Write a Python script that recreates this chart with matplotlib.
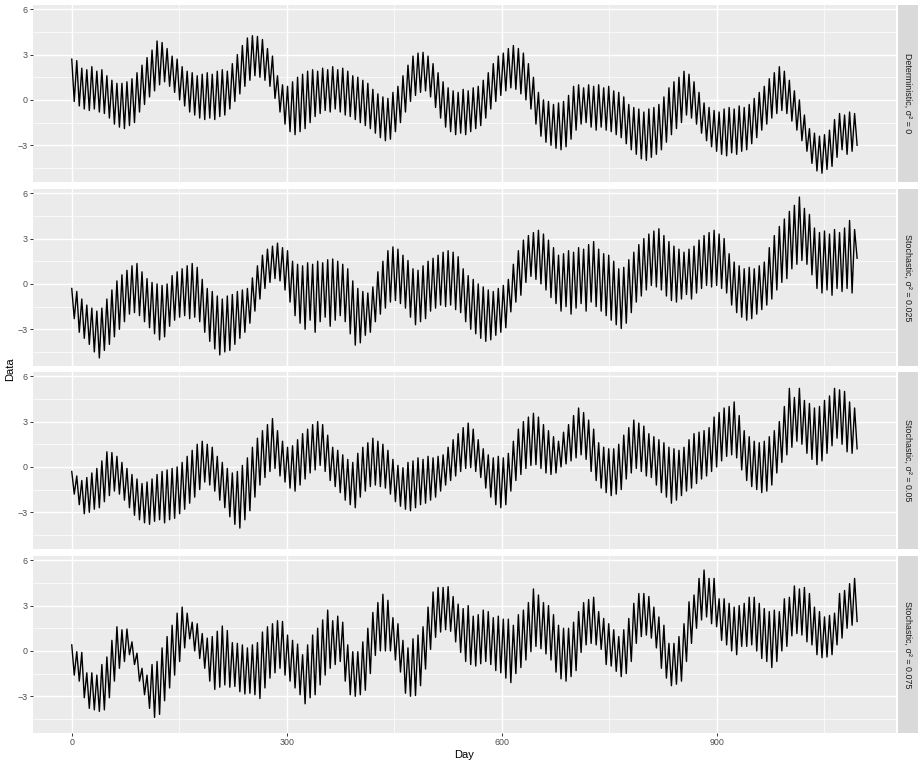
import numpy as np
import matplotlib
matplotlib.use("Agg")
import matplotlib.pyplot as plt

# weekly peak (hi) and trough (lo) of each facet
# 157 weeks -> days 0..1095
det_hi = [2.7, 2.6, 2.1, 2.0, 2.2, 1.9, 2.0, 1.6, 1.3, 1.1,
          1.1, 1.2, 1.4, 1.8, 2.3, 2.8, 3.3, 3.9, 3.8, 3.4,
          2.9, 2.7, 2.2, 1.9, 1.8, 1.6, 1.7, 1.8, 1.7, 1.9,
          2.0, 1.9, 2.4, 3.0, 3.6, 4.1, 4.25, 4.2, 4.0, 3.4,
          2.9, 1.6, 1.0, 0.9, 1.2, 1.5, 1.7, 1.9, 2.0, 1.9,
          2.1, 2.0, 2.2, 2.0, 2.1, 1.9, 1.6, 1.5, 1.3, 1.1,
          0.7, 0.4, 0.2, 0.1, 0.5, 0.9, 1.6, 2.3, 2.9, 3.1,
          3.15, 2.9, 2.4, 1.8, 1.2, 0.8, 0.6, 0.5, 0.7, 0.6,
          0.8, 0.9, 1.3, 1.8, 2.4, 2.9, 3.1, 3.4, 3.6, 3.4,
          3.1, 2.4, 1.5, 0.5, 0.0, -0.1, -0.3, -0.2, -0.1, 0.3,
          0.9, 1.0, 0.8, 1.0, 0.9, 1.0, 0.8, 0.9, 0.6, 0.5,
          0.2, -0.3, -0.5, -0.6, -0.8, -0.6, -0.5, -0.3, 0.2, 0.8,
          1.2, 1.5, 1.9, 1.7, 1.2, 0.5, -0.2, -0.5, -0.7, -0.8,
          -0.6, -0.5, -0.6, -0.4, -0.5, -0.3, 0.1, 0.5, 0.9, 1.4,
          1.8, 2.2, 1.9, 1.3, 0.6, 0.0, -1.0, -1.9, -2.2, -2.4,
          -2.3, -2.0, -1.3, -0.9, -1.0, -0.8, -0.9]
det_lo = [-0.1, -0.4, -0.6, -0.7, -0.6, -0.8, -0.9, -1.2, -1.6, -1.8,
          -1.9, -1.7, -1.5, -0.8, -0.3, 0.2, 0.6, 1.0, 1.2, 0.9,
          0.5, 0.0, -0.4, -0.8, -1.0, -1.2, -1.3, -1.2, -1.3, -1.1,
          -1.0, -0.6, -0.1, 0.4, 0.9, 1.3, 1.6, 1.5, 1.3, 0.9,
          0.1, -0.8, -1.6, -2.1, -2.3, -2.1, -1.9, -1.5, -1.1, -0.9,
          -0.7, -0.8, -0.6, -0.8, -1.0, -1.1, -1.3, -1.5, -1.7, -1.9,
          -2.2, -2.5, -2.7, -2.6, -2.1, -1.5, -0.8, -0.1, 0.3, 0.5,
          0.6, 0.2, -0.5, -1.2, -1.8, -2.1, -2.3, -2.2, -2.3, -2.1,
          -1.9, -1.7, -1.2, -0.6, -0.1, 0.3, 0.6, 0.8, 0.7, 0.4,
          0.0, -0.6, -1.6, -2.4, -2.8, -3.0, -3.2, -3.3, -3.1, -2.6,
          -2.0, -1.6, -1.5, -1.8, -2.0, -1.8, -2.0, -2.1, -2.3, -2.5,
          -2.9, -3.3, -3.6, -3.9, -4.0, -3.8, -3.6, -3.3, -2.8, -2.3,
          -1.9, -1.5, -1.0, -1.2, -1.6, -2.2, -2.7, -3.1, -3.4, -3.6,
          -3.7, -3.5, -3.6, -3.4, -3.3, -2.9, -2.5, -2.0, -1.6, -1.2,
          -0.9, -0.7, -0.9, -1.4, -2.0, -2.7, -3.4, -4.2, -4.7, -4.85,
          -4.6, -4.4, -3.8, -3.3, -3.6, -3.4, -3.0]

s025_hi = [-0.3, -0.5, -1.0, -1.4, -1.6, -1.8, -1.6, -1.0, -0.4, 0.2,
           0.6, 0.9, 1.2, 1.35, 0.8, 0.35, 0.1, 0.0, -0.1, 0.0,
           0.55, 0.8, 1.0, 1.2, 1.35, 1.1, 0.3, -0.3, -0.5, -0.8,
           -1.0, -0.8, -0.7, -0.5, -0.4, -0.3, 0.4, 1.2, 1.9, 2.3,
           2.5, 2.7, 2.4, 2.2, 1.5, 1.3, 1.2, 1.4, 1.3, 1.5,
           1.4, 1.6, 1.65, 1.5, 1.3, 1.0, 0.2, -0.3, -0.5, -0.6,
           -0.2, 0.8, 1.5, 2.2, 2.45, 2.3, 1.9, 1.55, 1.0, 0.9,
           1.2, 1.5, 1.7, 1.9, 2.1, 2.2, 2.1, 1.8, 1.0, 0.55,
           0.3, 0.0, -0.2, -0.4, -0.5, -0.3, -0.1, 0.3, 1.3, 2.2,
           2.9, 3.2, 3.4, 3.55, 3.3, 2.9, 2.4, 1.9, 2.0, 2.2,
           2.1, 2.4, 2.3, 2.6, 2.8, 2.3, 2.0, 1.9, 1.5, 1.0,
           1.1, 1.6, 2.1, 2.6, 3.0, 3.3, 3.5, 3.65, 3.2, 2.8,
           2.5, 2.3, 2.1, 2.3, 2.5, 2.9, 3.2, 3.4, 3.55, 3.3,
           3.0, 2.0, 1.45, 1.2, 1.0, 1.1, 1.0, 1.2, 1.45, 2.4,
           3.2, 3.8, 4.3, 4.8, 5.2, 5.75, 5.0, 4.6, 3.7, 3.4,
           3.5, 3.3, 3.6, 3.4, 3.7, 4.2, 3.6]
s025_lo = [-2.3, -3.2, -3.6, -4.0, -4.5, -4.9, -4.4, -4.0, -3.5, -3.0,
           -2.5, -2.0, -1.9, -2.1, -2.5, -2.9, -3.3, -3.7, -3.5, -2.8,
           -2.4, -2.2, -2.1, -2.3, -2.2, -2.5, -3.2, -3.8, -4.3, -4.7,
           -4.5, -4.4, -4.0, -3.6, -3.2, -2.6, -1.8, -1.0, -0.3, 0.1,
           0.35, 0.2, -0.4, -1.2, -2.1, -2.6, -3.0, -2.4, -3.2, -2.5,
           -2.2, -2.8, -2.4, -2.1, -2.5, -3.3, -4.05, -3.9, -3.4, -3.2,
           -2.5, -2.0, -1.6, -1.2, -1.1, -1.3, -1.6, -2.2, -2.7, -2.5,
           -2.3, -1.8, -1.6, -1.4, -1.5, -1.4, -1.7, -1.9, -2.5, -3.0,
           -3.3, -3.6, -3.8, -3.7, -3.4, -3.2, -2.9, -1.85, -1.2, -0.75,
           0.1, 0.5, 0.3, 0.0, -0.4, -0.9, -1.3, -1.8, -1.5, -2.0,
           -1.6, -1.3, -1.8, -1.2, -1.5, -1.8, -2.1, -2.4, -2.7, -2.95,
           -2.6, -1.9, -1.2, -0.8, -0.4, -0.1, -0.2, -0.4, -0.8, -1.1,
           -1.2, -1.0, -0.7, -1.0, -0.6, -0.3, -0.1, -0.2, -0.1, -0.3,
           -0.6, -1.4, -1.9, -2.2, -2.4, -2.3, -2.0, -1.7, -1.4, -1.0,
           -0.4, 0.1, 0.35, 1.0, 1.3, 1.55, 1.3, 0.6, -0.3, -0.6,
           -0.4, -0.75, -0.3, -0.5, -0.3, -0.6, 1.7]

s050_hi = [-0.3, -0.6, -0.9, -0.7, -0.4, -0.1, 0.4, 1.0, 0.95, 0.7,
           0.3, -0.1, -0.5, -0.8, -1.1, -1.0, -0.8, -0.5, -0.3, -0.2,
           -0.1, 0.0, 0.3, 0.7, 1.1, 1.5, 1.7, 1.5, 1.3, 0.7,
           0.3, -0.1, -0.4, -0.3, 0.1, 0.6, 1.3, 1.9, 2.4, 2.8,
           3.2, 2.4, 1.7, 1.3, 1.4, 1.8, 2.2, 2.5, 2.8, 3.0,
           2.8, 2.1, 1.3, 1.1, 0.8, 0.5, 0.3, 0.9, 1.3, 1.6,
           1.9, 1.7, 1.5, 1.1, 0.5, 0.1, -0.05, 0.3, 0.4, 0.6,
           0.5, 0.7, 0.6, 0.7, 0.8, 1.3, 1.8, 2.2, 2.6, 2.9,
           2.5, 1.8, 1.2, 0.8, 0.6, 0.7, 0.6, 0.9, 1.7, 2.5,
           3.0, 3.3, 3.55, 3.3, 2.8, 2.4, 2.0, 1.7, 2.3, 2.8,
           3.4, 3.9, 3.6, 3.1, 2.5, 1.6, 1.3, 1.2, 1.2, 1.5,
           2.1, 2.6, 3.1, 2.9, 2.7, 2.2, 2.0, 1.8, 1.6, 1.3,
           1.2, 1.1, 1.3, 1.8, 2.2, 2.3, 2.4, 2.6, 3.3, 3.6,
           3.9, 4.0, 4.3, 3.4, 2.4, 2.0, 1.7, 1.6, 1.7, 2.0,
           2.4, 3.0, 4.0, 5.2, 4.6, 5.2, 4.4, 4.2, 3.9, 4.0,
           4.4, 4.7, 5.2, 5.1, 5.0, 4.3, 3.9]
s050_lo = [-1.8, -2.5, -3.1, -3.0, -2.8, -2.7, -2.3, -1.9, -1.6, -1.8,
           -2.2, -2.7, -3.2, -3.5, -3.7, -3.8, -3.6, -3.5, -3.7, -3.5,
           -3.4, -3.1, -2.8, -2.4, -2.0, -1.5, -1.0, -1.2, -1.6, -2.2,
           -2.7, -3.3, -3.8, -4.05, -3.5, -2.9, -2.0, -1.2, -0.7, -0.3,
           -0.1, -0.6, -1.0, -1.4, -1.6, -1.2, -0.8, -0.4, -0.2, 0.1,
           -0.3, -0.9, -1.3, -1.7, -2.2, -2.5, -2.7, -2.0, -1.6, -1.3,
           -1.2, -1.3, -1.4, -1.8, -2.3, -2.6, -2.8, -2.9, -2.7, -2.5,
           -2.4, -2.2, -2.0, -1.6, -1.2, -0.9, -0.6, -0.3, -0.1, -0.05,
           -0.3, -0.7, -1.4, -2.0, -2.5, -2.7, -2.5, -1.6, -0.9, -0.5,
           -0.1, 0.1, 0.15, -0.1, -0.4, -0.5, -0.4, 0.0, 0.2, 0.4,
           0.6, 0.8, 0.5, -0.3, -0.9, -1.4, -1.7, -1.9, -1.8, -1.5,
           -0.8, -0.4, -0.1, -0.3, -0.6, -0.7, -1.2, -1.7, -2.0, -2.4,
           -2.2, -1.9, -1.6, -1.4, -1.1, -0.8, -0.6, -0.3, 0.0, 0.4,
           0.7, 0.8, 0.6, -0.2, -0.9, -1.3, -1.5, -1.7, -1.6, -1.2,
           -0.4, 0.3, 0.8, 1.3, 1.7, 1.5, 0.9, 0.5, 0.15, 0.4,
           0.9, 1.4, 1.9, 1.5, 1.0, 0.9, 1.2]

s075_hi = [0.4, -0.05, -0.1, -1.45, -1.45, -1.6, -0.9, -0.4, 0.7, 1.6,
           1.4, 1.45, 0.6, -0.15, -1.15, -1.6, -0.9, -0.7, 0.2, 0.95,
           1.7, 2.5, 2.9, 2.5, 1.9, 1.8, 1.15, 0.85, 0.95, 1.3,
           1.65, 1.35, 0.55, 0.5, 0.4, 0.2, 0.4, 0.55, 1.25, 1.6,
           1.8, 2.0, 1.95, 1.05, 0.7, 0.45, -0.25, 0.4, 1.05, 1.5,
           2.05, 2.7, 2.0, 2.3, 1.9, 0.4, -0.05, -0.05, 0.6, 1.5,
           2.55, 3.2, 3.75, 3.35, 2.2, 1.8, 0.7, 0.2, 0.8, 1.05,
           1.6, 2.9, 3.9, 4.2, 4.2, 4.25, 3.6, 3.1, 2.8, 3.0,
           2.3, 2.4, 2.7, 2.6, 2.2, 2.3, 2.1, 2.1, 1.7, 2.4,
           2.7, 3.2, 4.1, 3.7, 3.2, 3.0, 2.4, 1.7, 1.5, 1.5,
           1.9, 2.6, 3.2, 3.4, 3.55, 2.6, 2.15, 1.8, 1.4, 0.95,
           1.4, 2.15, 3.15, 3.8, 3.8, 3.6, 2.9, 2.25, 1.7, 0.5,
           0.5, 0.95, 1.8, 3.25, 3.7, 4.8, 5.35, 4.8, 4.8, 3.45,
           3.45, 3.15, 2.9, 3.0, 3.15, 3.55, 3.55, 3.15, 2.8, 2.6,
           2.7, 2.6, 3.45, 3.55, 4.3, 4.1, 4.2, 3.8, 2.9, 2.6,
           2.25, 2.35, 2.5, 3.8, 4.0, 4.45, 4.8]
s075_lo = [-1.6, -2.0, -3.1, -3.8, -3.9, -4.0, -3.9, -3.1, -2.0, -1.15,
           -0.7, -0.25, -0.9, -2.0, -2.9, -3.8, -4.4, -4.2, -3.3, -2.45,
           -1.6, -0.7, 0.2, 0.8, 0.0, -0.5, -1.15, -2.0, -2.55, -2.4,
           -2.25, -2.4, -2.35, -2.7, -2.85, -2.8, -2.9, -3.15, -2.45, -1.8,
           -1.45, -1.15, -1.6, -2.0, -2.45, -2.9, -3.5, -3.1, -2.9, -2.25,
           -1.6, -1.15, -0.9, -0.7, -2.0, -2.9, -3.0, -2.9, -2.6, -1.5,
           -0.3, 0.0, 0.0, 0.0, -0.6, -1.4, -2.8, -3.0, -2.95, -2.3,
           -1.2, 0.1, 0.9, 1.25, 1.4, 1.3, 0.6, -0.1, -0.7, -0.9,
           -1.0, -0.85, -0.7, -0.9, -1.3, -1.45, -1.8, -2.1, -1.5, -1.1,
           -0.6, -0.05, 0.3, 0.15, -0.2, -0.6, -1.4, -1.85, -2.0, -1.7,
           -1.3, -0.1, 0.4, 0.5, 0.4, 0.1, -0.9, -1.0, -1.35, -1.7,
           -1.5, -0.7, 0.5, 0.95, 1.05, 0.85, 0.2, -1.15, -1.8, -2.3,
           -2.2, -2.0, -0.7, 0.5, 1.5, 2.05, 2.25, 1.8, 1.6, 0.7,
           0.4, 0.0, -0.25, 0.3, 0.3, 0.4, 0.0, -0.5, -0.7, -1.1,
           -0.7, 0.0, 0.3, 1.0, 1.15, 1.05, 0.6, 0.4, -0.25, -0.45,
           -0.4, -0.25, 0.4, 0.85, 1.5, 1.7, 1.95]

facet_labels = ["Deterministic, σ² = 0", "Stochastic, σ² = 0.025",
                "Stochastic, σ² = 0.05", "Stochastic, σ² = 0.075"]
series = [(det_hi, det_lo), (s025_hi, s025_lo),
          (s050_hi, s050_lo), (s075_hi, s075_lo)]

plt.rcParams['font.family'] = ['Liberation Sans', 'DejaVu Sans']

W, H = 922, 766
fig = plt.figure(figsize=(W / 100, H / 100), dpi=100)

weeks = np.arange(157)
day_hi = weeks * 7
day_lo = weeks * 7 + 3.5
last_day = 1095

allv = np.concatenate([np.r_[h, l] for h, l in series])
ypad = 0.05 * (allv.max() - allv.min())
ylim = (allv.min() - ypad, allv.max() + ypad)
xpad = 0.05 * last_day

left, right = 32.5, 896
tops = [5, 189, 372, 556]
ph = 177

for i, (hi, lo) in enumerate(series):
    top = tops[i]
    ax = fig.add_axes([left / W, 1 - (top + ph) / H, (right - left) / W, ph / H])
    ax.set_facecolor('#EBEBEB')
    for s in ax.spines.values():
        s.set_visible(False)

    x = np.column_stack([day_hi, day_lo]).ravel()
    y = np.column_stack([hi, lo]).ravel()
    ax.plot(x, y, color='black', lw=1.0)

    ax.set_xlim(-xpad, last_day + xpad)
    ax.set_ylim(*ylim)
    ax.set_xticks([0, 300, 600, 900])
    ax.set_xticks([150, 450, 750, 1050], minor=True)
    ax.set_yticks([-3, 0, 3, 6])
    ax.set_yticks([-4.5, -1.5, 1.5, 4.5], minor=True)
    ax.grid(which='major', color='white', lw=1.05)
    ax.grid(which='minor', color='white', lw=0.5)
    ax.set_axisbelow(True)
    ax.tick_params(which='minor', length=0)
    ax.tick_params(which='major', length=2.0, width=0.7, color='#333333',
                   labelsize=6.4, labelcolor='#4D4D4D', pad=1.6)
    if i < 3:
        ax.tick_params(axis='x', which='both', bottom=False, labelbottom=False)

    # facet strip on the right
    st = fig.add_axes([898 / W, 1 - (top + ph) / H, 20 / W, ph / H])
    st.set_facecolor('#D9D9D9')
    st.set_xticks([])
    st.set_yticks([])
    for s in st.spines.values():
        s.set_visible(False)
    st.text(0.5, 0.5, facet_labels[i], rotation=270, ha='center', va='center',
            fontsize=6.4, color='#1A1A1A', transform=st.transAxes)

fig.text((left + right) / 2 / W, 1 - 755 / H, 'Day', ha='center', va='center',
         fontsize=8, color='black')
fig.text(10 / W, 1 - 369 / H, 'Data', ha='center', va='center', rotation=90,
         fontsize=8, color='black')

fig.savefig('out.png', dpi=100)
